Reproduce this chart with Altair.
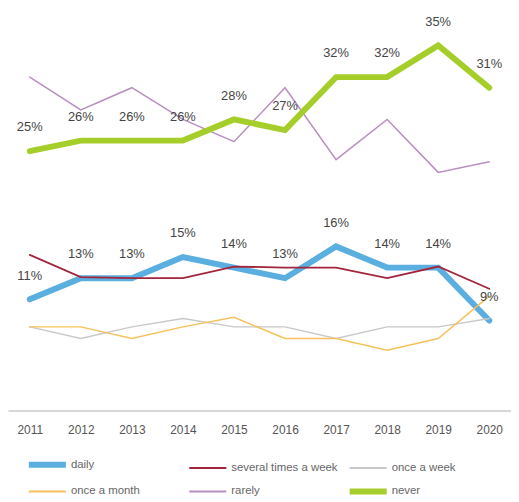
import altair as alt
import pandas as pd

years = [2011, 2012, 2013, 2014, 2015, 2016, 2017, 2018, 2019, 2020]
series = ["daily", "several times a week", "once a week", "once a month", "rarely", "never"]

daily = [11, 13, 13, 15, 14, 13, 16, 14, 14, 9]
several = [15.2, 13.1, 13.0, 13.0, 14.1, 14.0, 14.0, 13.0, 14.1, 12.0]
weekly = [8.4, 7.3, 8.4, 9.2, 8.4, 8.4, 7.3, 8.4, 8.4, 9.2]
monthly = [8.4, 8.4, 7.3, 8.4, 9.3, 7.3, 7.3, 6.2, 7.3, 11.3]
rarely = [32.0, 28.9, 31.0, 28.0, 25.9, 31.0, 24.2, 28.0, 23.0, 24.0]
never = [25, 26, 26, 26, 28, 27, 32, 32, 35, 31]

labeled = ["daily", "never"]
colors = ["#5aaee0", "#a3253c", "#c8c8c8", "#f5c15c", "#b88fbf", "#a6ce2a"]
widths = [6, 1.8, 1.5, 1.5, 1.5, 6]

values = [daily, several, weekly, monthly, rarely, never]
rows = []
for name, vals, w in zip(series, values, widths):
    for yr, v in zip(years, vals):
        rows.append({"year": str(yr), "series": name, "value": v, "w": w})
df = pd.DataFrame(rows)
lab = df[df["series"].isin(labeled)].copy()
lab["text"] = lab["value"].round(0).astype(int).astype(str) + "%"

font = "Liberation Sans"
thick_expr = " || ".join(f"datum.value == '{s}'" for s in labeled)
legend = alt.Legend(
    orient="none", legendX=34, legendY=453, columns=3, direction="horizontal",
    title=None, symbolType="stroke", symbolSize=1400, labelFontSize=11.5,
    labelColor="#666666", labelFont=font, columnPadding=0, rowPadding=2,
    gridAlign="all", labelOffset=18,
    symbolStrokeWidth=alt.ExprRef(expr=f"({thick_expr}) ? 6 : 2"),
)

x = alt.X("year:O", scale=alt.Scale(type="point", padding=0.426),
          axis=alt.Axis(title=None, labelAngle=0, ticks=False, grid=False,
                        domainColor="#d8d8d8", domainWidth=2, labelFontSize=12,
                        labelColor="#555555", labelFont=font, labelPadding=14))
y = alt.Y("value:Q", scale=alt.Scale(domain=[0.5, 38.3], nice=False, zero=False), axis=None)

lines = alt.Chart(df).mark_line(strokeCap="round").encode(
    x=x, y=y,
    color=alt.Color("series:N", scale=alt.Scale(domain=series, range=colors), legend=legend),
    strokeWidth=alt.StrokeWidth("w:Q", scale=None),
    order=alt.Order("year:O"),
)

texts = alt.Chart(lab).mark_text(dy=-24, fontSize=13, color="#444444", font=font).encode(
    x=x, y=y, text="text:N"
)

chart = alt.layer(lines, texts).properties(
    width=508, height=404, padding={"left": 0, "top": 0, "right": 0, "bottom": 0}
).configure_view(stroke=None)

chart.save("out.html", embed_options={"renderer": "svg", "actions": False})
